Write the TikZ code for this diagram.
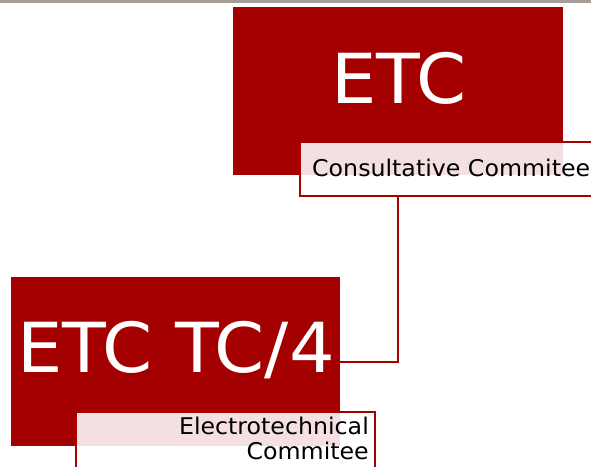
\documentclass[tikz,border=0pt]{standalone}
\usepackage{fontspec}
\setmainfont{DejaVu Sans}
\newfontfamily\bigfam[FakeStretch=1.04]{DejaVu Sans}
\newfontfamily\smallfam[FakeStretch=1.03]{DejaVu Sans}
\definecolor{etcred}{RGB}{165,0,0}
\definecolor{topgray}{RGB}{166,157,148}
\tikzset{
  redbox/.style={rectangle, fill=etcred, draw=none, inner sep=0pt},
  labelbox/.style={rectangle, fill=white, fill opacity=0.88, draw=etcred, draw opacity=1, line width=2pt, inner sep=0pt},
  bigtext/.style={text=white, inner sep=0pt, font=\bigfam\fontsize{69}{80}\selectfont},
  smalltext/.style={text=black, inner sep=0pt, font=\smallfam\fontsize{23}{25}\selectfont},
  link/.style={draw=etcred, line width=2pt}
}
\begin{document}
\begin{tikzpicture}[x=1pt,y=-1pt]
\useasboundingbox (0,0) rectangle (591,466);
\clip (0,0) rectangle (591,466);
\fill[white] (0,0) rectangle (591,466);
\fill[topgray] (0,0) rectangle (591,3);
% ETC
\node[redbox, minimum width=330pt, minimum height=168pt] (etc) at (398,91) {};
\node[bigtext] (etct) at (399,78) {ETC};
\node[labelbox, anchor=north west, minimum width=301pt, minimum height=54pt] (cc) at (299,141) {};
\node[smalltext, anchor=base west] (cct) at (312,176) {Consultative Commitee};
% ETC TC/4
\node[redbox, minimum width=329pt, minimum height=169pt] (tc4) at (175.5,361.5) {};
\node[bigtext] (tc4t) at (176,350) {ETC TC/4};
\node[labelbox, anchor=north west, minimum width=299pt, minimum height=70pt] (ec) at (75,411) {};
\node[smalltext, anchor=base east] (ect1) at (369,434) {Electrotechnical};
\node[smalltext, anchor=base east] (ect2) at (369,459) {Commitee};
% connector
\draw[link] (etc.south |- cc.south) |- (tc4.east);
\end{tikzpicture}
\end{document}
